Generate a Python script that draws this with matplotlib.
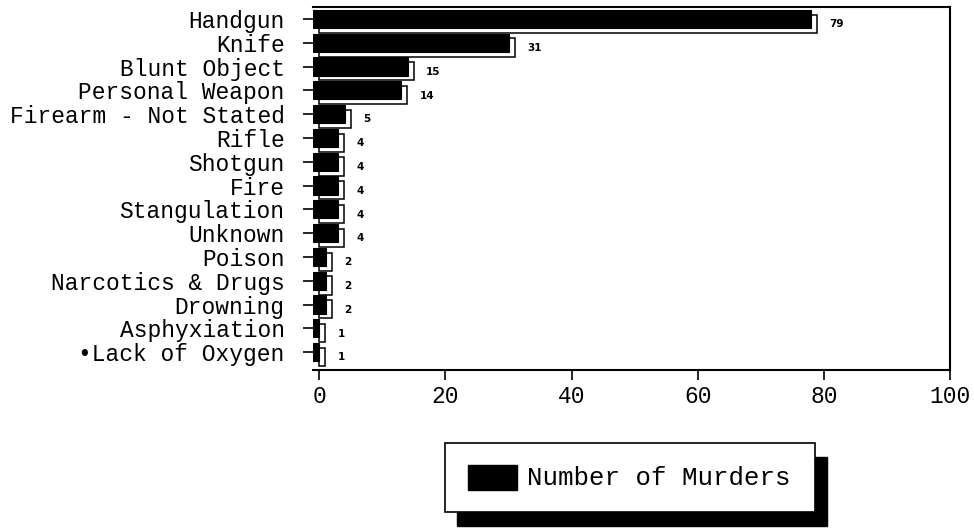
import matplotlib
matplotlib.use("Agg")
import matplotlib.pyplot as plt
from matplotlib.patches import Rectangle

categories = ["Handgun", "Knife", "Blunt Object", "Personal Weapon",
              "Firearm - Not Stated", "Rifle", "Shotgun", "Fire",
              "Stangulation", "Unknown", "Poison", "Narcotics & Drugs",
              "Drowning", "Asphyxiation", "\u2022Lack of Oxygen"]
murders = [79, 31, 15, 14, 5, 4, 4, 4, 4, 4, 2, 2, 2, 1, 1]
xticks = [0, 20, 40, 60, 80, 100]
legend_label = "Number of Murders"

FONT = ["Liberation Mono", "DejaVu Sans Mono"]
W, H = 974, 528
fig = plt.figure(figsize=(W / 100, H / 100), dpi=100)
ax = fig.add_axes([313 / W, 1 - 370 / H, (950 - 313) / W, (370 - 7) / H])

ypos = list(range(len(categories)))
h = 0.76
dx = 0.95
dy = 0.2
left0 = -1.0
# back (3D depth) face
ax.barh([y + dy for y in ypos], murders, height=h, left=left0 + dx,
        color="white", edgecolor="black", linewidth=1.1, zorder=2)
# front face
ax.barh(ypos, murders, height=h, left=left0, color="black",
        edgecolor="black", linewidth=0.8, zorder=3)

for y, v in zip(ypos, murders):
    ax.annotate(str(v), xy=(left0 + dx + v, y + 0.22), xytext=(9, 0),
                textcoords="offset points", ha="left", va="center",
                fontsize=7.5, fontweight="bold", family="DejaVu Sans")

ax.set_xlim(-1, 100)
ax.set_ylim(14.75, -0.5)
ax.set_yticks(ypos)
ax.set_yticklabels(categories, family=FONT, fontsize=16.5)
ax.set_xticks(xticks)
ax.set_xticklabels([str(t) for t in xticks], family=FONT, fontsize=16.5)
ax.tick_params(axis="y", direction="out", length=7.5, width=1.2, pad=13)
ax.tick_params(axis="x", direction="out", length=7, width=1.2, pad=4)
ax.spines["left"].set_visible(False)
for s in ["top", "right", "bottom"]:
    ax.spines[s].set_linewidth(1.5)

# legend box with drop shadow (figure pixel coordinates)
def fx(x):
    return x / W

def fy(y):
    return 1 - y / H

fig.patches.append(Rectangle((fx(457), fy(526)), (815 - 445) / W, (512 - 443) / H,
                             transform=fig.transFigure, facecolor="black",
                             edgecolor="black", zorder=1))
fig.patches.append(Rectangle((fx(445), fy(512)), (815 - 445) / W, (512 - 443) / H,
                             transform=fig.transFigure, facecolor="white",
                             edgecolor="black", linewidth=1.2, zorder=2))
fig.patches.append(Rectangle((fx(468), fy(490)), (517 - 468) / W, (490 - 465) / H,
                             transform=fig.transFigure, facecolor="black",
                             edgecolor="black", zorder=3))
fig.text(fx(527), fy(478), legend_label, family=FONT, fontsize=18.5,
         ha="left", va="center", zorder=4)

fig.savefig("out.png", dpi=100)
